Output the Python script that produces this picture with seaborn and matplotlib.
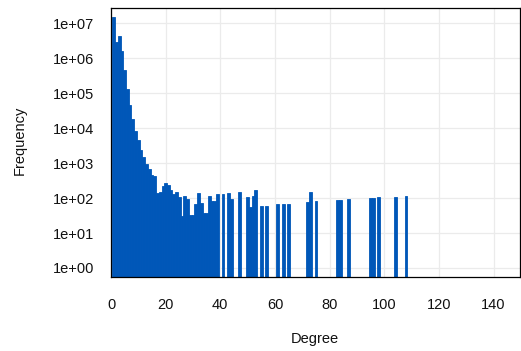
import matplotlib
matplotlib.use("Agg")
import matplotlib.pyplot as plt
import seaborn as sns
import numpy as np
import pandas as pd
from matplotlib.ticker import FixedLocator, FixedFormatter

# ---- data ----
degree = [1, 2, 3, 4, 5, 6, 7, 8, 9, 10,
          11, 12, 13, 14, 15, 16, 17, 18, 19, 20,
          21, 22, 23, 24, 25, 26, 27, 28, 29, 30,
          31, 32, 33, 34, 35, 36, 37, 38, 39, 41,
          43, 44, 47, 50, 51, 52, 53, 55, 57, 61,
          63, 65, 72, 73, 75, 83, 84, 87, 95, 96,
          98, 104, 108]
frequency = [1.5e7, 3.0e6, 4.3e6, 1.66e6, 4.7e5, 1.35e5, 4.7e4, 1.86e4, 8.5e3, 4.7e3,
             2.4e3, 1.5e3, 950, 700, 450, 420, 140, 145, 215, 270,
             240, 170, 132, 154, 110, 30, 115, 93, 33, 33,
             68, 138, 71, 38, 38, 115, 80, 80, 128, 130,
             137, 92, 150, 108, 57, 115, 171, 60, 60, 67,
             67, 68, 78, 154, 80, 89, 89, 93, 101, 101,
             106, 110, 115]
x_ticks = [0, 20, 40, 60, 80, 100, 120, 140]
y_ticks = [1e0, 1e1, 1e2, 1e3, 1e4, 1e5, 1e6, 1e7]
y_tick_labels = ["1e+00", "1e+01", "1e+02", "1e+03", "1e+04", "1e+05", "1e+06", "1e+07"]

df = pd.DataFrame({"Degree": degree, "Frequency": frequency})

sns.set_theme(style="white")
plt.rcParams["font.family"] = ["Liberation Sans", "DejaVu Sans"]

W, H = 521, 351
left_px, right_px, top_px, bottom_px = 111.0, 519.5, 7.5, 277.0
fig = plt.figure(figsize=(W / 100, H / 100), dpi=100)
ax = fig.add_axes([left_px / W, (H - bottom_px) / H,
                   (right_px - left_px) / W, (bottom_px - top_px) / H])

bar_color = "#0057b8"
ax.set_yscale("log")
sns.histplot(data=df, x="Degree", weights="Frequency",
             binwidth=1, binrange=(0.5, 108.5), element="bars", fill=True,
             color=bar_color, edgecolor=bar_color, linewidth=0.6, alpha=1,
             ax=ax, zorder=2)

ax.set_xlim(0, 149.5)
ax.set_ylim(0.552, 2.83e7)

ax.xaxis.set_major_locator(FixedLocator(x_ticks))
ax.yaxis.set_major_locator(FixedLocator(y_ticks))
ax.yaxis.set_major_formatter(FixedFormatter(y_tick_labels))
ax.yaxis.set_minor_locator(FixedLocator([]))

ax.grid(True, which="major", color="#ebebeb", linewidth=0.9, zorder=0)
ax.set_axisbelow(True)

for s in ax.spines.values():
    s.set_color("black")
    s.set_linewidth(0.9)
    s.set_visible(True)

ax.tick_params(axis="both", which="major", direction="out", length=6,
               width=1.0, color="#555555", labelsize=10.5, labelcolor="#111111")
ax.tick_params(axis="x", pad=9)
ax.tick_params(axis="y", pad=6)

ax.set_xlabel("Degree", fontsize=10.5, color="#111111")
ax.set_ylabel("Frequency", fontsize=10.5, color="#111111")
ax.xaxis.set_label_coords(0.5, (bottom_px - 339) / (bottom_px - top_px))
ax.xaxis.label.set_verticalalignment("center")
ax.yaxis.set_label_coords((20 - left_px) / (right_px - left_px),
                          (bottom_px - 140) / (bottom_px - top_px))
ax.yaxis.label.set_verticalalignment("center")

fig.savefig("out.png", dpi=100)
